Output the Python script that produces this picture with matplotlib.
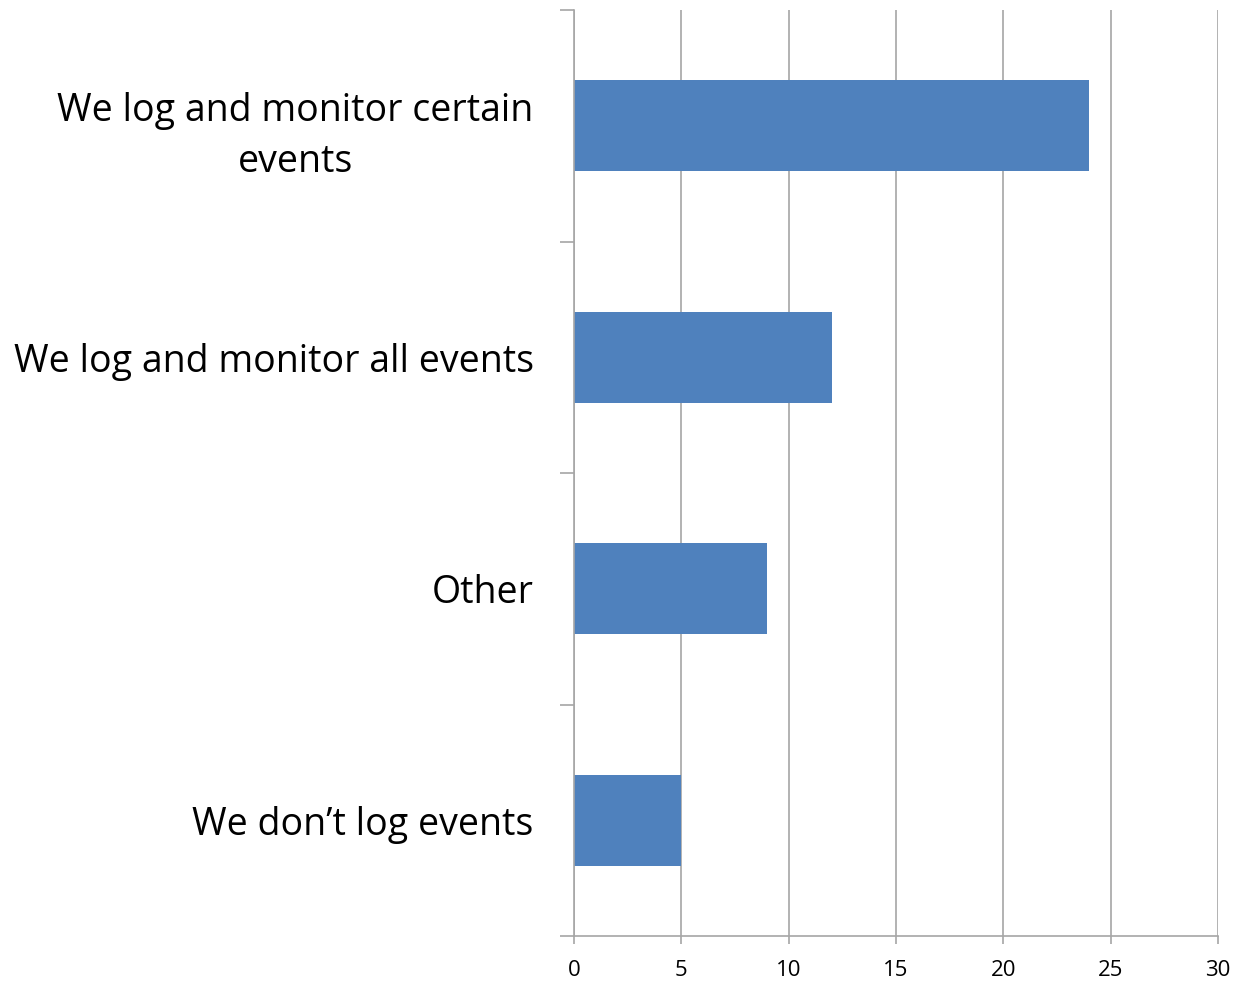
import numpy as np
import matplotlib.pyplot as plt
from matplotlib.ticker import FixedLocator

# data, top to bottom as drawn
categories = ["We log and monitor certain\nevents",
              "We log and monitor all events",
              "Other",
              "We don\u2019t log events"]
counts = [24, 12, 9, 5]
x_ticks = [0, 5, 10, 15, 20, 25, 30]

plt.rcParams['font.family'] = ['Open Sans', 'DejaVu Sans']

fig = plt.figure(figsize=(12.51, 9.84), dpi=100)
ax = fig.add_axes([574 / 1251, 1 - 936 / 984, (1218 - 574) / 1251, (936 - 10) / 984])

grey = "#a6a6a6"
ypos = np.arange(len(categories))[::-1]
ax.barh(ypos, counts, height=0.395, color="#4f81bd", zorder=2)

ax.set_xlim(0, 30)
ax.set_ylim(-0.5, len(categories) - 0.5)
ax.set_xticks(x_ticks)
ax.set_xticklabels([str(t) for t in x_ticks], fontsize=16)
ax.set_yticks(ypos)
ax.set_yticklabels(categories, fontsize=27)
for lab in ax.get_yticklabels():
    lab.set_multialignment("center")
    lab.set_linespacing(1.45)

# category separators as minor ticks on the value axis
ax.yaxis.set_minor_locator(FixedLocator(np.arange(-0.5, len(categories), 1.0)))
ax.tick_params(axis="y", which="major", length=0, pad=29)
ax.tick_params(axis="y", which="minor", length=10, width=1.2, color=grey)
ax.tick_params(axis="x", which="major", length=6, width=1.2, color=grey, pad=11)

ax.grid(axis="x", color=grey, linewidth=1.2, zorder=0)
ax.set_axisbelow(True)
for side in ("top", "right"):
    ax.spines[side].set_visible(False)
for side in ("left", "bottom"):
    ax.spines[side].set_color(grey)
    ax.spines[side].set_linewidth(1.2)

fig.savefig("out.png", dpi=100)
